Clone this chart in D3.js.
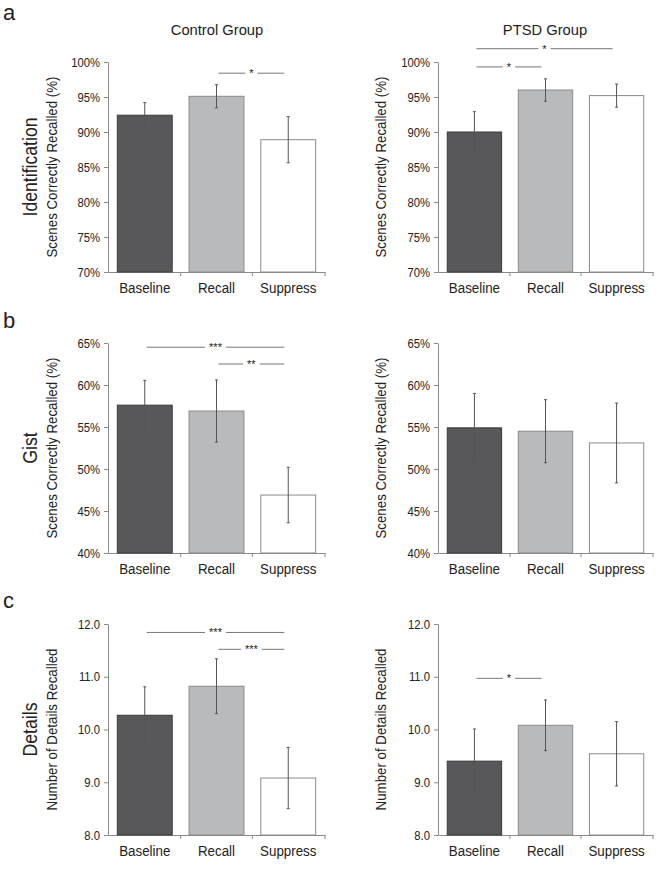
<!DOCTYPE html>
<html>
<head>
<meta charset="utf-8">
<script src="https://cdn.jsdelivr.net/npm/d3@7"></script>
<style>
  body { margin: 0; background: #fff; }
  svg text { font-family: "Liberation Sans", Arial, sans-serif; fill: #222; }
</style>
</head>
<body>
<script>
// conditions shared by every panel
const conditions = ["Baseline", "Recall", "Suppress"];
const groups = ["Control Group", "PTSD Group"];

// identification (% scenes)
const idControl = [92.4, 95.1, 88.9];
const idControlErr = [1.8, 1.65, 3.3];
const idPtsd = [90.0, 96.0, 95.2];
const idPtsdErr = [2.9, 1.6, 1.65];

// gist (% scenes)
const gistControl = [57.6, 56.9, 46.9];
const gistControlErr = [2.95, 3.7, 3.3];
const gistPtsd = [54.9, 54.5, 53.1];
const gistPtsdErr = [4.1, 3.75, 4.75];

// details (count)
const detControl = [10.27, 10.82, 9.08];
const detControlErr = [0.54, 0.52, 0.58];
const detPtsd = [9.40, 10.08, 9.54];
const detPtsdErr = [0.61, 0.48, 0.61];

// y tick labels
const pctTicksA = [70, 75, 80, 85, 90, 95, 100];
const pctTicksB = [40, 45, 50, 55, 60, 65];
const detTicks = [8, 9, 10, 11, 12];

// significance brackets: [from, to, level, label]
const sigIdControl = [[1, 2, 98.4, "*"]];
const sigIdPtsd = [[0, 2, 101.9, "*"], [0, 1, 99.3, "*"]];
const sigGistControl = [[0, 2, 64.5, "***"], [1, 2, 62.5, "**"]];
const sigGistPtsd = [];
const sigDetControl = [[0, 2, 11.84, "***"], [1, 2, 11.52, "***"]];
const sigDetPtsd = [[0, 1, 10.97, "*"]];

const colors = ["#58585a", "#b9babc", "#ffffff"];
const strokes = ["#3a3a3a", "#8a8a8a", "#8a8a8a"];

const W = 656, H = 881;
const svg = d3.select("body").append("svg")
    .attr("width", W)
    .attr("height", H);

// narrow the glyphs a bit, the original uses a condensed face
function squeeze(sel, k) {
    sel.each(function() {
        const w = this.getComputedTextLength();
        d3.select(this)
            .attr("textLength", w * k)
            .attr("lengthAdjust", "spacingAndGlyphs");
    });
}

const rows = [
    { letter: "a", title: "Identification", yTitle: "Scenes Correctly Recalled (%)", top: 62, bottom: 272,
      ticks: pctTicksA, fmt: d => d + "%", letterY: 20,
      data: [[idControl, idControlErr, sigIdControl], [idPtsd, idPtsdErr, sigIdPtsd]] },
    { letter: "b", title: "Gist", yTitle: "Scenes Correctly Recalled (%)", top: 343, bottom: 553,
      ticks: pctTicksB, fmt: d => d + "%", letterY: 328,
      data: [[gistControl, gistControlErr, sigGistControl], [gistPtsd, gistPtsdErr, sigGistPtsd]] },
    { letter: "c", title: "Details", yTitle: "Number of Details Recalled", top: 624, bottom: 835,
      ticks: detTicks, fmt: d3.format(".1f"), letterY: 608,
      data: [[detControl, detControlErr, sigDetControl], [detPtsd, detPtsdErr, sigDetPtsd]] }
];

const cols = [
    { left: 108, right: 325, yTitleX: 57, groupX: 217 },
    { left: 438, right: 653, yTitleX: 386, groupX: 545 }
];

// group headers
cols.forEach((c, i) => {
    svg.append("text")
        .attr("x", c.groupX)
        .attr("y", 35)
        .attr("text-anchor", "middle")
        .attr("font-size", 15.5)
        .text(groups[i])
        .call(squeeze, 0.95);
});

rows.forEach(row => {
    svg.append("text")
        .attr("x", 3)
        .attr("y", row.letterY)
        .attr("font-size", 22)
        .text(row.letter);

    svg.append("text")
        .attr("transform", `translate(37,${(row.top + row.bottom) / 2}) rotate(-90)`)
        .attr("text-anchor", "middle")
        .attr("font-size", 21)
        .text(row.title)
        .call(squeeze, 0.84);

    cols.forEach((c, ci) => {
        const [vals, errs, sigs] = row.data[ci];
        drawPanel(c, row, vals, errs, sigs);
    });
});

function drawPanel(c, row, vals, errs, sigs) {
    const x = d3.scaleBand()
        .domain(conditions)
        .range([c.left, c.right])
        .paddingInner(0.235)
        .paddingOuter(0.13);

    const y = d3.scaleLinear()
        .domain(d3.extent(row.ticks))
        .range([row.bottom, row.top]);

    const g = svg.append("g");

    // y axis
    const yAxis = g.append("g")
        .attr("transform", `translate(${c.left},0)`)
        .call(d3.axisLeft(y).tickValues(row.ticks).tickFormat(row.fmt)
            .tickSize(4).tickSizeOuter(0).tickPadding(4));
    yAxis.selectAll("path, line").attr("stroke", "#8a8a8a");
    yAxis.selectAll("text").attr("font-size", 12.5).attr("fill", "#222")
        .attr("font-family", "'Liberation Sans', Arial, sans-serif")
        .call(squeeze, 0.9);

    // x axis (labels only, ticks at band edges)
    const xAxis = g.append("g")
        .attr("transform", `translate(0,${row.bottom})`)
        .call(d3.axisBottom(x).tickSize(0).tickSizeOuter(0).tickPadding(10));
    xAxis.select(".domain").attr("stroke", "#8a8a8a");
    xAxis.selectAll("text").attr("font-size", 15.5).attr("fill", "#222")
        .attr("font-family", "'Liberation Sans', Arial, sans-serif")
        .call(squeeze, 0.86);
    const edges = conditions.map((d, i) => x(d) + x.bandwidth() + x.step() * x.paddingInner() / 2);
    edges[2] = c.right;
    g.selectAll(".xtick")
        .data(edges)
        .enter()
        .append("line")
        .attr("x1", d => d).attr("x2", d => d)
        .attr("y1", row.bottom).attr("y2", row.bottom + 4)
        .attr("stroke", "#8a8a8a");

    // y title
    svg.append("text")
        .attr("transform", `translate(${c.yTitleX},${(row.top + row.bottom) / 2}) rotate(-90)`)
        .attr("text-anchor", "middle")
        .attr("font-size", 14)
        .text(row.yTitle)
        .call(squeeze, 0.95);

    // bars
    g.selectAll(".bar")
        .data(vals)
        .enter()
        .append("rect")
        .attr("x", (d, i) => x(conditions[i]))
        .attr("width", x.bandwidth())
        .attr("y", d => y(d))
        .attr("height", d => row.bottom - y(d))
        .attr("fill", (d, i) => colors[i])
        .attr("stroke", (d, i) => strokes[i])
        .attr("stroke-width", 1);

    // error bars
    vals.forEach((v, i) => {
        const cx = x(conditions[i]) + x.bandwidth() / 2;
        const e = errs[i];
        g.append("line")
            .attr("x1", cx).attr("x2", cx)
            .attr("y1", y(v + e)).attr("y2", y(v - e))
            .attr("stroke", "#555");
        [v + e, v - e].forEach(t => {
            g.append("line")
                .attr("x1", cx - 1.5).attr("x2", cx + 1.5)
                .attr("y1", y(t)).attr("y2", y(t))
                .attr("stroke", "#555");
        });
    });

    // significance lines
    sigs.forEach(([a, b, lvl, lab]) => {
        const x1 = x(conditions[a]) + x.bandwidth() / 2 + 2;
        const x2 = x(conditions[b]) + x.bandwidth() / 2 - 4;
        const mid = (x1 + x2) / 2;
        const yy = y(lvl);
        const t = g.append("text")
            .attr("x", mid)
            .attr("y", yy + 4)
            .attr("text-anchor", "middle")
            .attr("font-size", 11)
            .attr("fill", "#333")
            .text(lab);
        const half = t.node().getComputedTextLength() / 2 + 4;
        [[x1, mid - half], [mid + half, x2]].forEach(([s, e]) => {
            g.append("line")
                .attr("x1", s).attr("x2", e)
                .attr("y1", yy).attr("y2", yy)
                .attr("stroke", "#777");
        });
    });
}
</script>
</body>
</html>
